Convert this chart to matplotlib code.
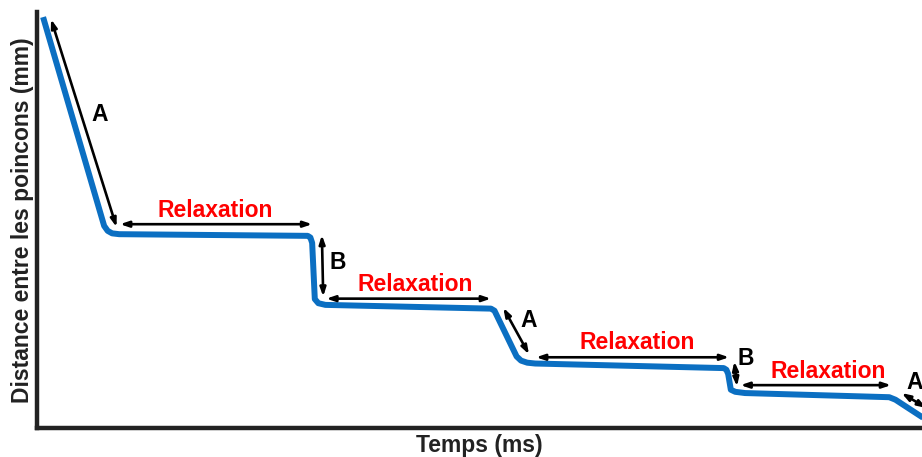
import matplotlib.pyplot as plt

plt.rcParams['font.family'] = ['Liberation Sans', 'DejaVu Sans']

# displacement curve: loading (A), hold (relaxation), quick step (B), ...
temps = [0.7, 7.6, 8.0, 8.5, 9.3, 30.6, 30.9, 31.1, 31.4, 31.8, 32.6, 51.3,
         51.7, 54.2, 54.7, 55.4, 56.3, 77.6, 77.9, 78.1, 78.4, 78.9, 80.0,
         96.3, 97.0, 100.6, 101.5]
distance = [9.88, 4.86, 4.74, 4.68, 4.66, 4.62, 4.58, 4.45, 3.10, 3.00, 2.96, 2.87,
            2.82, 1.72, 1.62, 1.57, 1.55, 1.44, 1.40, 1.30, 0.92, 0.87, 0.84,
            0.74, 0.68, 0.18, 0.05]

# double arrows: (x0, y0, x1, y1), label, label position
fleches = [
    ((1.6, 9.83, 9.0, 4.83), 'A', (7.1, 7.54)),
    ((9.4, 4.90, 31.1, 4.90), 'Relaxation', (20.1, 5.22)),
    ((32.2, 4.64, 32.35, 3.16), 'B', (34.0, 3.97)),
    ((32.7, 3.11, 51.3, 3.11), 'Relaxation', (42.7, 3.44)),
    ((52.7, 2.89, 55.6, 1.77), 'A', (55.6, 2.58)),
    ((56.4, 1.70, 78.2, 1.70), 'Relaxation', (67.8, 2.06)),
    ((78.8, 1.60, 79.1, 1.00), 'B', (80.1, 1.67)),
    ((79.5, 1.03, 96.5, 1.03), 'Relaxation', (89.4, 1.36)),
    ((97.7, 0.84, 100.5, 0.48), 'A', (99.2, 1.10)),
]

fig = plt.figure(figsize=(9.22, 4.57), dpi=100)
ax = fig.add_axes([0.040, 0.0635, 0.96, 0.91])

ax.plot(temps, distance, color='#0b6fc2', lw=4.3, solid_joinstyle='round',
        solid_capstyle='butt', zorder=3)

for (x0, y0, x1, y1), lab, (tx, ty) in fleches:
    ax.annotate('', xy=(x1, y1), xytext=(x0, y0), annotation_clip=False,
                arrowprops=dict(arrowstyle='<|-|>,head_length=0.5,head_width=0.17',
                                color='black', lw=1.9, shrinkA=0, shrinkB=0))
    col = 'red' if lab == 'Relaxation' else 'black'
    ax.text(tx, ty, lab, color=col, fontsize=16.5, fontweight='bold',
            ha='center', va='center', clip_on=False)

ax.set_xlim(0, 100)
ax.set_ylim(0, 10)
ax.set_xticks([])
ax.set_yticks([])
for s in ['top', 'right']:
    ax.spines[s].set_visible(False)
for s in ['left', 'bottom']:
    ax.spines[s].set_linewidth(3.2)
    ax.spines[s].set_color('#222222')

ax.set_xlabel('Temps (ms)', fontsize=16.5, fontweight='bold', color='#222222', labelpad=4)
ax.set_ylabel('Distance entre les poincons (mm)', fontsize=16.5, fontweight='bold',
              color='#222222', labelpad=2)

fig.savefig('out.png', dpi=100)
